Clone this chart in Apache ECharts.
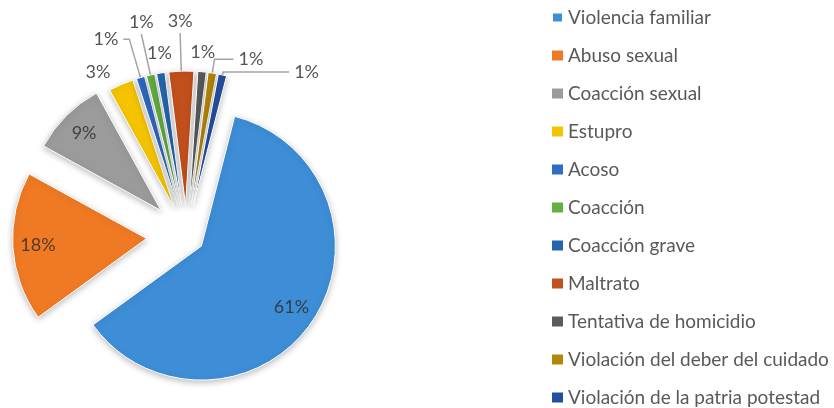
<!DOCTYPE html>
<html>
<head>
<meta charset="utf-8">
<title>Delitos</title>
<script src="https://cdn.jsdelivr.net/npm/echarts@6/dist/echarts.min.js"></script>
<style>
  html, body { margin: 0; padding: 0; background: #ffffff; }
  #chart { width: 834px; height: 408px; }
</style>
</head>
<body>
<div id="chart"></div>
<script>
// Categories and their shares (percent of all cases)
const categories = [
  'Violencia familiar',
  'Abuso sexual',
  'Coacción sexual',
  'Estupro',
  'Acoso',
  'Coacción',
  'Coacción grave',
  'Maltrato',
  'Tentativa de homicidio',
  'Violación del deber del cuidado',
  'Violación de la patria potestad'
];
const shares = [61, 18, 9, 3, 1, 1, 1, 3, 1, 1, 1];

// Slice colours, in category order
const sliceColors = [
  '#3d8ed7', '#f07a24', '#9b9b9b', '#f5c400', '#2f6cc6', '#64b043',
  '#2466ad', '#c2501c', '#5b5b5b', '#b4860c', '#234f9c'
];

// How far each slice is pulled out of the pie (px)
const explode = [18, 40, 36, 31, 31, 31, 31, 31, 31, 31, 31];

// Label placement per slice: inside, or outside with a leader line
// ("above" centres the text over the end of the line)
const labelPlan = [
  { inside: true }, { inside: true }, { inside: true },
  { len: 14, len2: 0, line: false },
  { len: 40, len2: 6, line: true },
  { len: 42, len2: 0, line: true, above: true },
  { len: 8, len2: 0, line: false, above: true },
  { len: 38, len2: 0, line: true, above: true },
  { len: 8, len2: 0, line: false, above: true },
  { len: 14, len2: 19, line: true },
  { len: 3, len2: 66, line: true }
];

const CENTER = [186.5, 236];
const RADIUS = 134;
const START = 14.4;           // first slice edge, degrees clockwise from 12 o'clock
const INSIDE_RATIO = 0.79;    // radial position of the inside labels

const total = shares.reduce((a, b) => a + b, 0);
const midAngles = [];
{
  let acc = 0;
  shares.forEach((v) => {
    midAngles.push(START + (acc + v / 2) / total * 360);
    acc += v;
  });
}

const labelFont = { fontFamily: 'Lato', fontSize: 18, color: 'rgba(45,45,45,0.82)' };

function labelLayout(params) {
  const i = params.dataIndex;
  const plan = labelPlan[i];
  const out = {};
  if (params.labelLinePoints) out.labelLinePoints = params.labelLinePoints;
  if (plan.inside) {
    const a = midAngles[i] * Math.PI / 180;
    const shift = (INSIDE_RATIO - 0.5) * RADIUS;
    out.dx = Math.sin(a) * shift;
    out.dy = -Math.cos(a) * shift;
  } else if (plan.above) {
    const w = params.labelRect.width, h = params.labelRect.height;
    out.dx = params.align === 'right' ? w / 2 + 5 : -(w / 2 + 5);
    out.dy = -(h / 2 + 3);
  }
  return out;
}

// One pie per explode distance; each pie lays out every category so the angles agree,
// and only draws the slices that belong to it.
const groups = [...new Set(explode)];
const series = groups.map((off) => ({
  type: 'pie',
  center: CENTER,
  radius: RADIUS,
  startAngle: 90 - START,
  clockwise: true,
  avoidLabelOverlap: false,
  selectedMode: 'multiple',
  selectedOffset: off,
  animation: false,
  silent: true,
  emphasis: { disabled: true, scale: false },
  label: Object.assign({ position: 'outside', formatter: (p) => p.value + '%' }, labelFont),
  labelLine: { lineStyle: { color: '#a5a5a5', width: 1.5 } },
  labelLayout: labelLayout,
  data: categories.map((name, i) => {
    const mine = explode[i] === off;
    const plan = labelPlan[i];
    return {
      name: name,
      value: shares[i],
      selected: true,
      itemStyle: mine
        ? { color: sliceColors[i], borderColor: '#ffffff', borderWidth: 1,
            shadowBlur: 6, shadowColor: 'rgba(0,0,0,0.25)', shadowOffsetY: 2 }
        : { color: 'rgba(0,0,0,0)', borderWidth: 0 },
      select: { itemStyle: mine
        ? { color: sliceColors[i], borderColor: '#ffffff', borderWidth: 1 }
        : { color: 'rgba(0,0,0,0)', borderWidth: 0 } },
      label: { show: mine, position: plan.inside ? 'inside' : 'outside' },
      labelLine: {
        show: mine && !!plan.line,
        length: plan.len || 0,
        length2: plan.len2 || 0
      }
    };
  })
}));

const chart = echarts.init(document.getElementById('chart'), null, { renderer: 'canvas' });
chart.setOption({
  backgroundColor: '#ffffff',
  animation: false,
  legend: {
    orient: 'vertical',
    left: 551,
    top: 8,
    height: 400,
    padding: 0,
    itemWidth: 11,
    itemHeight: 10,
    itemGap: 19,
    selectedMode: false,
    icon: 'rect',
    textStyle: { fontFamily: 'Lato', fontSize: 19, color: '#595959', lineHeight: 16 },
    data: categories.map((name, i) => ({ name: name, itemStyle: { color: sliceColors[i] } }))
  },
  series: series
});
</script>
</body>
</html>
